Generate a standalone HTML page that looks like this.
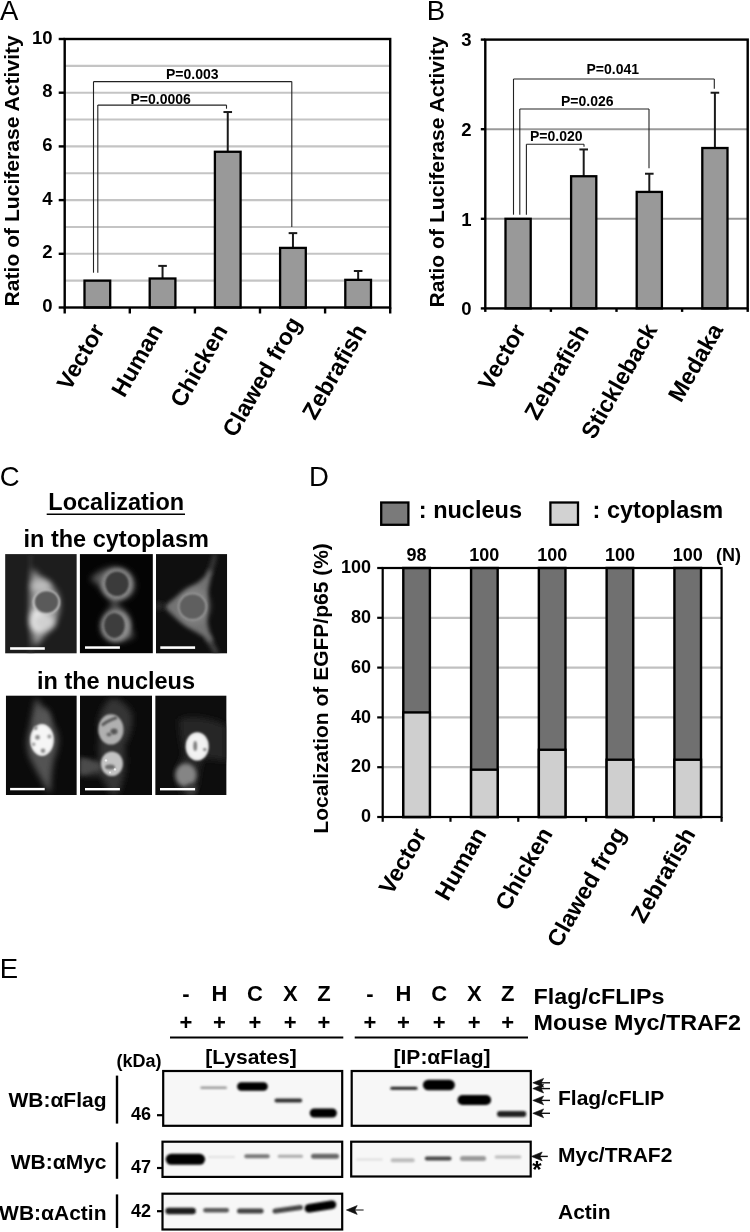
<!DOCTYPE html>
<html><head><meta charset="utf-8"><style>
html,body{margin:0;padding:0;background:#fff;width:750px;height:1232px;overflow:hidden}
svg text{font-family:"Liberation Sans",sans-serif}
</style></head><body>
<svg width="750" height="1232" viewBox="0 0 750 1232" style="display:block;filter:grayscale(1)">
<rect width="750" height="1232" fill="#fff"/>
<text x="0" y="19.7" font-size="27.5" font-weight="normal" text-anchor="start" fill="#000" >A</text>
<text x="426.8" y="19.8" font-size="27.5" font-weight="normal" text-anchor="start" fill="#000" >B</text>
<text x="-0.2" y="486.2" font-size="27.5" font-weight="normal" text-anchor="start" fill="#000" >C</text>
<text x="309.1" y="485.8" font-size="27.5" font-weight="normal" text-anchor="start" fill="#000" >D</text>
<text x="-0.3" y="977.6" font-size="27.5" font-weight="normal" text-anchor="start" fill="#000" >E</text>
<line x1="64.7" y1="280.65" x2="390.2" y2="280.65" stroke="#c4c4c4" stroke-width="2.1"/>
<line x1="64.7" y1="253.8" x2="390.2" y2="253.8" stroke="#c4c4c4" stroke-width="2.1"/>
<line x1="64.7" y1="226.95" x2="390.2" y2="226.95" stroke="#c4c4c4" stroke-width="2.1"/>
<line x1="64.7" y1="200.1" x2="390.2" y2="200.1" stroke="#c4c4c4" stroke-width="2.1"/>
<line x1="64.7" y1="173.25" x2="390.2" y2="173.25" stroke="#c4c4c4" stroke-width="2.1"/>
<line x1="64.7" y1="146.39999999999998" x2="390.2" y2="146.39999999999998" stroke="#c4c4c4" stroke-width="2.1"/>
<line x1="64.7" y1="119.54999999999998" x2="390.2" y2="119.54999999999998" stroke="#c4c4c4" stroke-width="2.1"/>
<line x1="64.7" y1="92.69999999999999" x2="390.2" y2="92.69999999999999" stroke="#c4c4c4" stroke-width="2.1"/>
<line x1="64.7" y1="65.85" x2="390.2" y2="65.85" stroke="#c4c4c4" stroke-width="2.1"/>
<rect x="84.5" y="280.65" width="25.7" height="26.850000000000023" fill="#999999" stroke="#000" stroke-width="2.3" />
<line x1="162.55" y1="265.8825" x2="162.55" y2="278.502" stroke="#1a1a1a" stroke-width="2"/>
<line x1="158.25" y1="265.8825" x2="166.85000000000002" y2="265.8825" stroke="#1a1a1a" stroke-width="2"/>
<rect x="149.70000000000002" y="278.502" width="25.7" height="28.99799999999999" fill="#999999" stroke="#000" stroke-width="2.3" />
<line x1="227.75" y1="112.03199999999998" x2="227.75" y2="151.77" stroke="#1a1a1a" stroke-width="2"/>
<line x1="223.45" y1="112.03199999999998" x2="232.05" y2="112.03199999999998" stroke="#1a1a1a" stroke-width="2"/>
<rect x="214.9" y="151.77" width="25.7" height="155.73" fill="#999999" stroke="#000" stroke-width="2.3" />
<line x1="292.95000000000005" y1="233.1255" x2="292.95000000000005" y2="247.893" stroke="#1a1a1a" stroke-width="2"/>
<line x1="288.65000000000003" y1="233.1255" x2="297.25000000000006" y2="233.1255" stroke="#1a1a1a" stroke-width="2"/>
<rect x="280.1" y="247.893" width="25.7" height="59.607" fill="#999999" stroke="#000" stroke-width="2.3" />
<line x1="358.15" y1="270.984" x2="358.15" y2="279.8445" stroke="#1a1a1a" stroke-width="2"/>
<line x1="353.84999999999997" y1="270.984" x2="362.45" y2="270.984" stroke="#1a1a1a" stroke-width="2"/>
<rect x="345.29999999999995" y="279.8445" width="25.7" height="27.655500000000018" fill="#999999" stroke="#000" stroke-width="2.3" />
<rect x="64.7" y="39" width="325.5" height="268.5" fill="none" stroke="#000" stroke-width="2.4" />
<line x1="58.7" y1="307.5" x2="64.7" y2="307.5" stroke="#000" stroke-width="2.4"/>
<text x="52.6" y="312.0" font-size="18.5" font-weight="bold" text-anchor="end" fill="#000" >0</text>
<line x1="58.7" y1="253.8" x2="64.7" y2="253.8" stroke="#000" stroke-width="2.4"/>
<text x="52.6" y="258.3" font-size="18.5" font-weight="bold" text-anchor="end" fill="#000" >2</text>
<line x1="58.7" y1="200.1" x2="64.7" y2="200.1" stroke="#000" stroke-width="2.4"/>
<text x="52.6" y="204.6" font-size="18.5" font-weight="bold" text-anchor="end" fill="#000" >4</text>
<line x1="58.7" y1="146.39999999999998" x2="64.7" y2="146.39999999999998" stroke="#000" stroke-width="2.4"/>
<text x="52.6" y="150.89999999999998" font-size="18.5" font-weight="bold" text-anchor="end" fill="#000" >6</text>
<line x1="58.7" y1="92.69999999999999" x2="64.7" y2="92.69999999999999" stroke="#000" stroke-width="2.4"/>
<text x="52.6" y="97.19999999999999" font-size="18.5" font-weight="bold" text-anchor="end" fill="#000" >8</text>
<line x1="58.7" y1="39.0" x2="64.7" y2="39.0" stroke="#000" stroke-width="2.4"/>
<text x="52.6" y="43.5" font-size="18.5" font-weight="bold" text-anchor="end" fill="#000" >10</text>
<line x1="64.7" y1="307.5" x2="64.7" y2="313.5" stroke="#000" stroke-width="2.4"/>
<line x1="129.8" y1="307.5" x2="129.8" y2="313.5" stroke="#000" stroke-width="2.4"/>
<line x1="194.89999999999998" y1="307.5" x2="194.89999999999998" y2="313.5" stroke="#000" stroke-width="2.4"/>
<line x1="260.0" y1="307.5" x2="260.0" y2="313.5" stroke="#000" stroke-width="2.4"/>
<line x1="325.09999999999997" y1="307.5" x2="325.09999999999997" y2="313.5" stroke="#000" stroke-width="2.4"/>
<line x1="390.2" y1="307.5" x2="390.2" y2="313.5" stroke="#000" stroke-width="2.4"/>
<text transform="translate(105.3,330) rotate(-60)" font-size="23.3" font-weight="bold" text-anchor="end">Vector</text>
<text transform="translate(163.7,330) rotate(-60)" font-size="23.3" font-weight="bold" text-anchor="end">Human</text>
<text transform="translate(228.3,330.2) rotate(-60)" font-size="23.3" font-weight="bold" text-anchor="end">Chicken</text>
<text transform="translate(302,323) rotate(-60)" font-size="23.3" font-weight="bold" text-anchor="end">Clawed frog</text>
<text transform="translate(367.4,330.2) rotate(-60)" font-size="23.3" font-weight="bold" text-anchor="end">Zebrafish</text>
<text transform="translate(18.8,170.8) rotate(-90)" font-size="21.1" font-weight="bold" text-anchor="middle">Ratio of Luciferase Activity</text>
<line x1="93.5" y1="272.7" x2="93.5" y2="81.6" stroke="#222" stroke-width="1.1"/>
<line x1="93.5" y1="81.6" x2="291.8" y2="81.6" stroke="#222" stroke-width="1.1"/>
<line x1="291.8" y1="81.6" x2="291.8" y2="226.9" stroke="#222" stroke-width="1.1"/>
<line x1="97.8" y1="272.7" x2="97.8" y2="105.1" stroke="#222" stroke-width="1.1"/>
<line x1="97.8" y1="105.1" x2="226.5" y2="105.1" stroke="#222" stroke-width="1.1"/>
<line x1="226.5" y1="105.1" x2="226.5" y2="108.7" stroke="#222" stroke-width="1.1"/>
<text x="166" y="79" font-size="14" font-weight="bold" text-anchor="start" fill="#000" >P=0.003</text>
<text x="130.5" y="103.5" font-size="14" font-weight="bold" text-anchor="start" fill="#000" >P=0.0006</text>
<line x1="485.3" y1="218.8" x2="747.7" y2="218.8" stroke="#9a9a9a" stroke-width="2.0"/>
<line x1="485.3" y1="129.20000000000002" x2="747.7" y2="129.20000000000002" stroke="#9a9a9a" stroke-width="2.0"/>
<rect x="505.5" y="218.8" width="25.2" height="89.59999999999997" fill="#999999" stroke="#000" stroke-width="2.3" />
<line x1="583.7" y1="149.4496" x2="583.7" y2="176.24" stroke="#1a1a1a" stroke-width="2"/>
<line x1="579.4000000000001" y1="149.4496" x2="588.0" y2="149.4496" stroke="#1a1a1a" stroke-width="2"/>
<rect x="571.1" y="176.24" width="25.2" height="132.15999999999997" fill="#999999" stroke="#000" stroke-width="2.3" />
<line x1="649.3000000000001" y1="173.73120000000003" x2="649.3000000000001" y2="191.92000000000002" stroke="#1a1a1a" stroke-width="2"/>
<line x1="645.0000000000001" y1="173.73120000000003" x2="653.6" y2="173.73120000000003" stroke="#1a1a1a" stroke-width="2"/>
<rect x="636.7" y="191.92000000000002" width="25.2" height="116.47999999999996" fill="#999999" stroke="#000" stroke-width="2.3" />
<line x1="714.9000000000001" y1="92.73280000000003" x2="714.9000000000001" y2="148.01600000000002" stroke="#1a1a1a" stroke-width="2"/>
<line x1="710.6000000000001" y1="92.73280000000003" x2="719.2" y2="92.73280000000003" stroke="#1a1a1a" stroke-width="2"/>
<rect x="702.3000000000001" y="148.01600000000002" width="25.2" height="160.38399999999996" fill="#999999" stroke="#000" stroke-width="2.3" />
<rect x="485.3" y="39.6" width="262.40000000000003" height="268.79999999999995" fill="none" stroke="#000" stroke-width="2.4" />
<line x1="480.8" y1="308.4" x2="485.3" y2="308.4" stroke="#000" stroke-width="2.4"/>
<text x="471.6" y="315.09999999999997" font-size="18.5" font-weight="bold" text-anchor="end" fill="#000" >0</text>
<line x1="480.8" y1="218.8" x2="485.3" y2="218.8" stroke="#000" stroke-width="2.4"/>
<text x="471.6" y="225.5" font-size="18.5" font-weight="bold" text-anchor="end" fill="#000" >1</text>
<line x1="480.8" y1="129.20000000000002" x2="485.3" y2="129.20000000000002" stroke="#000" stroke-width="2.4"/>
<text x="471.6" y="135.9" font-size="18.5" font-weight="bold" text-anchor="end" fill="#000" >2</text>
<line x1="480.8" y1="39.60000000000002" x2="485.3" y2="39.60000000000002" stroke="#000" stroke-width="2.4"/>
<text x="471.6" y="46.300000000000026" font-size="18.5" font-weight="bold" text-anchor="end" fill="#000" >3</text>
<line x1="485.3" y1="308.4" x2="485.3" y2="311.9" stroke="#000" stroke-width="2.4"/>
<line x1="550.9" y1="308.4" x2="550.9" y2="311.9" stroke="#000" stroke-width="2.4"/>
<line x1="616.5" y1="308.4" x2="616.5" y2="311.9" stroke="#000" stroke-width="2.4"/>
<line x1="682.1" y1="308.4" x2="682.1" y2="311.9" stroke="#000" stroke-width="2.4"/>
<line x1="747.7" y1="308.4" x2="747.7" y2="311.9" stroke="#000" stroke-width="2.4"/>
<text transform="translate(526.5,330.2) rotate(-60)" font-size="23.3" font-weight="bold" text-anchor="end">Vector</text>
<text transform="translate(589.6,330.4) rotate(-60)" font-size="23.3" font-weight="bold" text-anchor="end">Zebrafish</text>
<text transform="translate(658,329.5) rotate(-60)" font-size="23.3" font-weight="bold" text-anchor="end">Stickleback</text>
<text transform="translate(723.8,329.5) rotate(-60)" font-size="23.3" font-weight="bold" text-anchor="end">Medaka</text>
<text transform="translate(443.8,171.9) rotate(-90)" font-size="21.1" font-weight="bold" text-anchor="middle">Ratio of Luciferase Activity</text>
<line x1="513.5" y1="214.7" x2="513.5" y2="79" stroke="#222" stroke-width="1.1"/>
<line x1="513.5" y1="79" x2="714.3" y2="79" stroke="#222" stroke-width="1.1"/>
<line x1="714.3" y1="79" x2="714.3" y2="88.7" stroke="#222" stroke-width="1.1"/>
<line x1="519.8" y1="214.7" x2="519.8" y2="109" stroke="#222" stroke-width="1.1"/>
<line x1="519.8" y1="109" x2="649" y2="109" stroke="#222" stroke-width="1.1"/>
<line x1="649" y1="109" x2="649" y2="168.3" stroke="#222" stroke-width="1.1"/>
<line x1="526.4" y1="214.7" x2="526.4" y2="144.3" stroke="#222" stroke-width="1.1"/>
<line x1="526.4" y1="144.3" x2="584" y2="144.3" stroke="#222" stroke-width="1.1"/>
<line x1="584" y1="144.3" x2="584" y2="146.7" stroke="#222" stroke-width="1.1"/>
<text x="586.5" y="74.3" font-size="14" font-weight="bold" text-anchor="start" fill="#000" >P=0.041</text>
<text x="561" y="106" font-size="14" font-weight="bold" text-anchor="start" fill="#000" >P=0.026</text>
<text x="530" y="141" font-size="14" font-weight="bold" text-anchor="start" fill="#000" >P=0.020</text>
<text x="116.2" y="509.7" font-size="23.5" font-weight="bold" text-anchor="middle" fill="#000" >Localization</text>
<line x1="46.7" y1="514.2" x2="185" y2="514.2" stroke="#000" stroke-width="1.6"/>
<text x="116.2" y="546.6" font-size="23.5" font-weight="bold" text-anchor="middle" fill="#000" >in the cytoplasm</text>
<text x="116.0" y="688.5" font-size="23.5" font-weight="bold" text-anchor="middle" fill="#000" >in the nucleus</text>
<line x1="382.7" y1="767.2" x2="721.6" y2="767.2" stroke="#c0c0c0" stroke-width="2.2"/>
<line x1="382.7" y1="717.4" x2="721.6" y2="717.4" stroke="#c0c0c0" stroke-width="2.2"/>
<line x1="382.7" y1="667.6" x2="721.6" y2="667.6" stroke="#c0c0c0" stroke-width="2.2"/>
<line x1="382.7" y1="617.8" x2="721.6" y2="617.8" stroke="#c0c0c0" stroke-width="2.2"/>
<rect x="403.28999999999996" y="568" width="26.6" height="249.0" fill="#707070" stroke="#000" stroke-width="2.4" />
<rect x="403.28999999999996" y="712.42" width="26.6" height="104.58000000000001" fill="#cfcfcf" stroke="#000" stroke-width="2.4" />
<rect x="471.07" y="568" width="26.6" height="249.0" fill="#707070" stroke="#000" stroke-width="2.4" />
<rect x="471.07" y="769.69" width="26.6" height="47.31" fill="#cfcfcf" stroke="#000" stroke-width="2.4" />
<rect x="538.85" y="568" width="26.6" height="249.0" fill="#707070" stroke="#000" stroke-width="2.4" />
<rect x="538.85" y="749.77" width="26.6" height="67.23" fill="#cfcfcf" stroke="#000" stroke-width="2.4" />
<rect x="606.6300000000001" y="568" width="26.6" height="249.0" fill="#707070" stroke="#000" stroke-width="2.4" />
<rect x="606.6300000000001" y="759.73" width="26.6" height="57.27" fill="#cfcfcf" stroke="#000" stroke-width="2.4" />
<rect x="674.4100000000001" y="568" width="26.6" height="249.0" fill="#707070" stroke="#000" stroke-width="2.4" />
<rect x="674.4100000000001" y="759.73" width="26.6" height="57.27" fill="#cfcfcf" stroke="#000" stroke-width="2.4" />
<rect x="382.7" y="568" width="338.90000000000003" height="249.0" fill="none" stroke="#000" stroke-width="2.2" />
<line x1="377.2" y1="817.0" x2="382.7" y2="817.0" stroke="#000" stroke-width="2.2"/>
<text x="371" y="822.2" font-size="18" font-weight="bold" text-anchor="end" fill="#000" >0</text>
<line x1="377.2" y1="767.2" x2="382.7" y2="767.2" stroke="#000" stroke-width="2.2"/>
<text x="371" y="772.4000000000001" font-size="18" font-weight="bold" text-anchor="end" fill="#000" >20</text>
<line x1="377.2" y1="717.4" x2="382.7" y2="717.4" stroke="#000" stroke-width="2.2"/>
<text x="371" y="722.6" font-size="18" font-weight="bold" text-anchor="end" fill="#000" >40</text>
<line x1="377.2" y1="667.6" x2="382.7" y2="667.6" stroke="#000" stroke-width="2.2"/>
<text x="371" y="672.8000000000001" font-size="18" font-weight="bold" text-anchor="end" fill="#000" >60</text>
<line x1="377.2" y1="617.8" x2="382.7" y2="617.8" stroke="#000" stroke-width="2.2"/>
<text x="371" y="623.0" font-size="18" font-weight="bold" text-anchor="end" fill="#000" >80</text>
<line x1="377.2" y1="568.0" x2="382.7" y2="568.0" stroke="#000" stroke-width="2.2"/>
<text x="371" y="573.2" font-size="18" font-weight="bold" text-anchor="end" fill="#000" >100</text>
<line x1="382.7" y1="817.0" x2="382.7" y2="821.8" stroke="#000" stroke-width="2.2"/>
<line x1="450.48" y1="817.0" x2="450.48" y2="821.8" stroke="#000" stroke-width="2.2"/>
<line x1="518.26" y1="817.0" x2="518.26" y2="821.8" stroke="#000" stroke-width="2.2"/>
<line x1="586.04" y1="817.0" x2="586.04" y2="821.8" stroke="#000" stroke-width="2.2"/>
<line x1="653.8199999999999" y1="817.0" x2="653.8199999999999" y2="821.8" stroke="#000" stroke-width="2.2"/>
<line x1="721.5999999999999" y1="817.0" x2="721.5999999999999" y2="821.8" stroke="#000" stroke-width="2.2"/>
<text transform="translate(427.3,834.2) rotate(-60)" font-size="23.3" font-weight="bold" text-anchor="end">Vector</text>
<text transform="translate(487.2,833.5) rotate(-60)" font-size="23.3" font-weight="bold" text-anchor="end">Human</text>
<text transform="translate(553.3,833.5) rotate(-60)" font-size="23.3" font-weight="bold" text-anchor="end">Chicken</text>
<text transform="translate(626.5,833.2) rotate(-60)" font-size="23.3" font-weight="bold" text-anchor="end">Clawed frog</text>
<text transform="translate(696.2,833.8) rotate(-60)" font-size="23.3" font-weight="bold" text-anchor="end">Zebrafish</text>
<text transform="translate(328,688.4) rotate(-90)" font-size="21" font-weight="bold" text-anchor="middle">Localization of EGFP/p65 (%)</text>
<text x="416.59" y="560.5" font-size="18" font-weight="bold" text-anchor="middle" fill="#000" >98</text>
<text x="484.37" y="560.5" font-size="18" font-weight="bold" text-anchor="middle" fill="#000" >100</text>
<text x="552.15" y="560.5" font-size="18" font-weight="bold" text-anchor="middle" fill="#000" >100</text>
<text x="619.9300000000001" y="560.5" font-size="18" font-weight="bold" text-anchor="middle" fill="#000" >100</text>
<text x="687.71" y="560.5" font-size="18" font-weight="bold" text-anchor="middle" fill="#000" >100</text>
<text x="716" y="560.5" font-size="18" font-weight="bold" text-anchor="start" fill="#000" >(N)</text>
<rect x="381.2" y="502.5" width="27.2" height="22.3" fill="#7a7a7a" stroke="#000" stroke-width="2.3" />
<text x="418.8" y="518.2" font-size="23.5" font-weight="bold" text-anchor="start" fill="#000" >: nucleus</text>
<rect x="550.4" y="502.5" width="27.6" height="22.3" fill="#d2d2d2" stroke="#000" stroke-width="2.3" />
<text x="592.6" y="518.2" font-size="23.5" font-weight="bold" text-anchor="start" fill="#000" >: cytoplasm</text>
<text x="186" y="1001" font-size="22" font-weight="bold" text-anchor="middle" fill="#000" >-</text>
<text x="186" y="1030" font-size="22" font-weight="bold" text-anchor="middle" fill="#000" >+</text>
<text x="219.5" y="1001" font-size="22" font-weight="bold" text-anchor="middle" fill="#000" >H</text>
<text x="219.5" y="1030" font-size="22" font-weight="bold" text-anchor="middle" fill="#000" >+</text>
<text x="255" y="1001" font-size="22" font-weight="bold" text-anchor="middle" fill="#000" >C</text>
<text x="255" y="1030" font-size="22" font-weight="bold" text-anchor="middle" fill="#000" >+</text>
<text x="290.3" y="1001" font-size="22" font-weight="bold" text-anchor="middle" fill="#000" >X</text>
<text x="290.3" y="1030" font-size="22" font-weight="bold" text-anchor="middle" fill="#000" >+</text>
<text x="324" y="1001" font-size="22" font-weight="bold" text-anchor="middle" fill="#000" >Z</text>
<text x="324" y="1030" font-size="22" font-weight="bold" text-anchor="middle" fill="#000" >+</text>
<text x="370" y="1001" font-size="22" font-weight="bold" text-anchor="middle" fill="#000" >-</text>
<text x="370" y="1030" font-size="22" font-weight="bold" text-anchor="middle" fill="#000" >+</text>
<text x="403.5" y="1001" font-size="22" font-weight="bold" text-anchor="middle" fill="#000" >H</text>
<text x="403.5" y="1030" font-size="22" font-weight="bold" text-anchor="middle" fill="#000" >+</text>
<text x="439.2" y="1001" font-size="22" font-weight="bold" text-anchor="middle" fill="#000" >C</text>
<text x="439.2" y="1030" font-size="22" font-weight="bold" text-anchor="middle" fill="#000" >+</text>
<text x="474.3" y="1001" font-size="22" font-weight="bold" text-anchor="middle" fill="#000" >X</text>
<text x="474.3" y="1030" font-size="22" font-weight="bold" text-anchor="middle" fill="#000" >+</text>
<text x="507.7" y="1001" font-size="22" font-weight="bold" text-anchor="middle" fill="#000" >Z</text>
<text x="507.7" y="1030" font-size="22" font-weight="bold" text-anchor="middle" fill="#000" >+</text>
<line x1="170" y1="1037.5" x2="343.3" y2="1037.5" stroke="#000" stroke-width="2"/>
<line x1="354.7" y1="1037.5" x2="528" y2="1037.5" stroke="#000" stroke-width="2"/>
<text transform="translate(533.6,1004) scale(1.033,1)" font-size="22.6" font-weight="bold" text-anchor="start" fill="#000" >Flag/cFLIPs</text>
<text transform="translate(533.6,1029.7) scale(1.033,1)" font-size="22.6" font-weight="bold" text-anchor="start" fill="#000" >Mouse Myc/TRAF2</text>
<text x="251" y="1064" font-size="21" font-weight="bold" text-anchor="middle" fill="#000" >[Lysates]</text>
<text x="442" y="1064" font-size="21" font-weight="bold" text-anchor="middle" fill="#000" >[IP:&#945;Flag]</text>
<text x="139" y="1067" font-size="18" font-weight="bold" text-anchor="middle" fill="#000" >(kDa)</text>
<text x="106.5" y="1106.8" font-size="21" font-weight="bold" text-anchor="end" fill="#000" >WB:&#945;Flag</text>
<text x="106.5" y="1168.7" font-size="21" font-weight="bold" text-anchor="end" fill="#000" >WB:&#945;Myc</text>
<text x="106.5" y="1219.6" font-size="21" font-weight="bold" text-anchor="end" fill="#000" >WB:&#945;Actin</text>
<line x1="117" y1="1075.6" x2="117" y2="1123.6" stroke="#000" stroke-width="2.4"/>
<line x1="117" y1="1142.3" x2="117" y2="1178.8" stroke="#000" stroke-width="2.4"/>
<line x1="117" y1="1194.4" x2="117" y2="1228" stroke="#000" stroke-width="2.4"/>
<text x="151" y="1120" font-size="18" font-weight="bold" text-anchor="end" fill="#000" >46</text>
<text x="151" y="1172.8" font-size="18" font-weight="bold" text-anchor="end" fill="#000" >47</text>
<text x="151" y="1216.5" font-size="18" font-weight="bold" text-anchor="end" fill="#000" >42</text>
<line x1="157" y1="1115.2" x2="163" y2="1115.2" stroke="#000" stroke-width="2.2"/>
<line x1="157" y1="1168" x2="163" y2="1168" stroke="#000" stroke-width="2.2"/>
<line x1="157" y1="1211.2" x2="163" y2="1211.2" stroke="#000" stroke-width="2.2"/>
<text x="558" y="1105.3" font-size="21" font-weight="bold" text-anchor="start" fill="#000" >Flag/cFLIP</text>
<text x="558" y="1161.9" font-size="21" font-weight="bold" text-anchor="start" fill="#000" >Myc/TRAF2</text>
<text x="558" y="1218.5" font-size="21" font-weight="bold" text-anchor="start" fill="#000" >Actin</text>
<defs><filter id="b1" x="-50%" y="-100%" width="200%" height="300%"><feGaussianBlur stdDeviation="1.2"/></filter><filter id="b2" x="-50%" y="-100%" width="200%" height="300%"><feGaussianBlur stdDeviation="0.8"/></filter><filter id="cb3" x="-50%" y="-50%" width="200%" height="200%"><feGaussianBlur stdDeviation="3"/></filter><filter id="cb2" x="-50%" y="-50%" width="200%" height="200%"><feGaussianBlur stdDeviation="2"/></filter><filter id="cb1" x="-50%" y="-50%" width="200%" height="200%"><feGaussianBlur stdDeviation="1.2"/></filter></defs>
<rect x="163.2" y="1071" width="179.0" height="54.799999999999955" fill="#f7f7f7" stroke="none" stroke-width="0" />
<rect x="351.7" y="1071" width="179.09999999999997" height="54.799999999999955" fill="#f7f7f7" stroke="none" stroke-width="0" />
<rect x="162.5" y="1141.7" width="179.7" height="35.200000000000045" fill="#f7f7f7" stroke="none" stroke-width="0" />
<rect x="351.2" y="1141.7" width="179.50000000000006" height="34.799999999999955" fill="#f7f7f7" stroke="none" stroke-width="0" />
<rect x="162.5" y="1193.7" width="179.7" height="35.799999999999955" fill="#f7f7f7" stroke="none" stroke-width="0" />
<rect x="200.3" y="1086.45" width="26.69999999999999" height="2.5" rx="1.25" fill="#9a9a9a" filter="url(#b1)"/>
<rect x="237.1" y="1082.35" width="30.700000000000017" height="8.5" rx="4.25" fill="#000" filter="url(#b1)"/>
<rect x="274.5" y="1098.5" width="27.69999999999999" height="4" rx="2.0" fill="#333" filter="url(#b1)"/>
<rect x="309.7" y="1108.5" width="27.19999999999999" height="9" rx="4.5" fill="#000" filter="url(#b1)"/>
<rect x="390.3" y="1086.7" width="27.19999999999999" height="3" rx="1.5" fill="#222" filter="url(#b1)"/>
<rect x="422.9" y="1079.7" width="32.0" height="10.6" rx="5.3" fill="#000" filter="url(#b1)"/>
<rect x="457.5" y="1095.0" width="33.60000000000002" height="10" rx="5.0" fill="#000" filter="url(#b1)"/>
<rect x="497" y="1111.0" width="29.299999999999955" height="6" rx="3.0" fill="#222" filter="url(#b1)"/>
<rect x="165.7" y="1153.8" width="39.400000000000006" height="11" rx="5.5" fill="#000" filter="url(#b1)"/>
<rect x="208" y="1156.0" width="27" height="2" rx="1.0" fill="#e0e0e0" filter="url(#b1)"/>
<rect x="244.3" y="1154.3" width="25.399999999999977" height="4" rx="2.0" fill="#777" filter="url(#b1)"/>
<rect x="277.7" y="1154.8" width="25.30000000000001" height="3" rx="1.5" fill="#aaa" filter="url(#b1)"/>
<rect x="311" y="1153.8" width="28" height="5" rx="2.5" fill="#666" filter="url(#b1)"/>
<rect x="356" y="1158.5" width="26.69999999999999" height="2" rx="1.0" fill="#ddd" filter="url(#b1)"/>
<rect x="390.7" y="1158.3" width="24.0" height="4" rx="2.0" fill="#bbb" filter="url(#b1)"/>
<rect x="424.8" y="1156.5" width="26.69999999999999" height="4" rx="2.0" fill="#444" filter="url(#b1)"/>
<rect x="460" y="1156.0" width="26.100000000000023" height="5" rx="2.5" fill="#999" filter="url(#b1)"/>
<rect x="494.7" y="1155.4" width="26.599999999999966" height="3" rx="1.5" fill="#bbb" filter="url(#b1)"/>
<rect x="165.4" y="1207.75" width="30.400000000000006" height="6.5" rx="3.25" fill="#1a1a1a" filter="url(#b1)"/>
<rect x="203.2" y="1208.05" width="25.80000000000001" height="4.5" rx="2.25" fill="#5a5a5a" filter="url(#b1)"/>
<rect x="237" y="1208.5" width="26.600000000000023" height="5" rx="2.5" fill="#444" filter="url(#b1)"/>
<rect x="272.5" y="1206.8" width="30.5" height="5" rx="2.5" fill="#444" filter="url(#b1)" transform="rotate(-8,287.75,1209.3)"/>
<rect x="304.5" y="1202.35" width="31.899999999999977" height="8.5" rx="4.25" fill="#050505" filter="url(#b1)" transform="rotate(-9,320.45,1206.6)"/>
<rect x="163.2" y="1071" width="179.0" height="54.799999999999955" fill="none" stroke="#000" stroke-width="2.2" />
<rect x="351.7" y="1071" width="179.09999999999997" height="54.799999999999955" fill="none" stroke="#000" stroke-width="2.2" />
<rect x="162.5" y="1141.7" width="179.7" height="35.200000000000045" fill="none" stroke="#000" stroke-width="2.2" />
<rect x="351.2" y="1141.7" width="179.50000000000006" height="34.799999999999955" fill="none" stroke="#000" stroke-width="2.2" />
<rect x="162.5" y="1193.7" width="179.7" height="35.799999999999955" fill="none" stroke="#000" stroke-width="2.2" />
<line x1="538.8" y1="1082.8" x2="550" y2="1082.8" stroke="#111" stroke-width="1.4"/>
<path d="M532.8 1082.8 L543.5999999999999 1078.3999999999999 L541.1999999999999 1082.8 L543.5999999999999 1087.2 Z" fill="#111" stroke="#111" stroke-width="0.6" stroke-linejoin="round"/>
<line x1="538.8" y1="1088.6" x2="550" y2="1088.6" stroke="#111" stroke-width="1.4"/>
<path d="M532.8 1088.6 L543.5999999999999 1084.1999999999998 L541.1999999999999 1088.6 L543.5999999999999 1093.0 Z" fill="#111" stroke="#111" stroke-width="0.6" stroke-linejoin="round"/>
<line x1="538.8" y1="1100.4" x2="550" y2="1100.4" stroke="#111" stroke-width="1.4"/>
<path d="M532.8 1100.4 L543.5999999999999 1096.0 L541.1999999999999 1100.4 L543.5999999999999 1104.8000000000002 Z" fill="#111" stroke="#111" stroke-width="0.6" stroke-linejoin="round"/>
<line x1="538.8" y1="1113.3" x2="550" y2="1113.3" stroke="#111" stroke-width="1.4"/>
<path d="M532.8 1113.3 L543.5999999999999 1108.8999999999999 L541.1999999999999 1113.3 L543.5999999999999 1117.7 Z" fill="#111" stroke="#111" stroke-width="0.6" stroke-linejoin="round"/>
<line x1="537.4" y1="1156.4" x2="547.8" y2="1156.4" stroke="#111" stroke-width="1.4"/>
<path d="M531.4 1156.4 L542.1999999999999 1152.0 L539.8 1156.4 L542.1999999999999 1160.8000000000002 Z" fill="#111" stroke="#111" stroke-width="0.6" stroke-linejoin="round"/>
<line x1="352.4" y1="1210" x2="363.6" y2="1210" stroke="#444" stroke-width="1.3"/>
<path d="M346.4 1210 L357.2 1205.6 L354.79999999999995 1210 L357.2 1214.4 Z" fill="#111" stroke="#111" stroke-width="0.6" stroke-linejoin="round"/>
<text x="536.8" y="1177.5" font-size="24" font-weight="bold" text-anchor="middle" fill="#000" >*</text>
<svg x="5.1" y="554.1" width="71.7" height="99.5" viewBox="0 0 71.7 99.5"><rect width="100%" height="100%" fill="#1d1d1d"/><rect x="23.5" y="0" width="4" height="99.5" fill="#2e2e2e" filter="url(#cb2)"/><path d="M27.5 14 C34 24 46 28 52 38 C56 46 55 58 52 64 C48 74 40 80 33 90 L29 92 C26 80 24.5 60 25 45 C25 32 26 22 27.5 14Z" fill="#9a9a9a" filter="url(#cb3)"/><ellipse cx="33" cy="66" rx="8" ry="12" fill="#ececec" filter="url(#cb3)"/><ellipse cx="39" cy="68" rx="11" ry="8" fill="#d0d0d0" filter="url(#cb3)"/><ellipse cx="36" cy="32" rx="10" ry="6" fill="#bdbdbd" filter="url(#cb3)"/><ellipse cx="41.3" cy="48.2" rx="13.6" ry="12.4" fill="#d0d0d0" filter="url(#cb1)"/><ellipse cx="41.5" cy="47.8" rx="12" ry="11" fill="#5a5a5a" filter="url(#cb1)"/><rect x="5" y="93.1" width="34.7" height="2.6" fill="#fff"/></svg>
<svg x="79.7" y="554.1" width="73.2" height="99.29999999999995" viewBox="0 0 73.2 99.29999999999995"><rect width="100%" height="100%" fill="#040404"/><path d="M10.6 24.6 C18 18 26 13 36 13 C48 14 55 22 55 32 C55 40 48 45 40 46 L36 50 C45 55 52 62 51 74 C52 78 55 82 55 82 C48 86 42 88 36 88 C26 88 21 80 21 72 C21 64 27 57 33 51 L31 46 C25 42 22 36 18 30 C15 28 12 27 10.6 24.6Z" fill="#5a5a5a" filter="url(#cb3)"/><ellipse cx="37.3" cy="30" rx="15.5" ry="15.5" fill="#8e8e8e" filter="url(#cb2)"/><ellipse cx="37.3" cy="29.7" rx="11.8" ry="12.3" fill="#3a3a3a" filter="url(#cb1)"/><ellipse cx="36.3" cy="71.8" rx="14.5" ry="15.5" fill="#8e8e8e" filter="url(#cb2)"/><ellipse cx="34.7" cy="71.3" rx="10.3" ry="12.5" fill="#3c3c3c" filter="url(#cb1)"/><rect x="5.3" y="92.2" width="34.9" height="2.5" fill="#fff"/></svg>
<svg x="156" y="554.1" width="71.19999999999999" height="99.5" viewBox="0 0 71.19999999999999 99.5"><rect width="100%" height="100%" fill="#0f0f0f"/><path d="M57 0 L61 0 C60 8 58 14 56 20 L50 20 C53 14 55 8 57 0Z" fill="#3a3a3a" filter="url(#cb2)"/><path d="M53 80 C56 86 60 92 63 99.5 L58 99.5 C55 94 52 90 48 84Z" fill="#444" filter="url(#cb2)"/><path d="M8 52.6 C18 44 28 37 38 31 C45 27 50 22 53 16 L56 18 C54 26 52 36 51 46 C50 58 51 68 53 76 C54 80 56 84 57 87 L54 88 C50 84 44 80 38 77 C28 72 18 63 8 52.6Z" fill="#727272" filter="url(#cb2)"/><ellipse cx="38" cy="52" rx="15" ry="18" fill="#828282" filter="url(#cb3)"/><ellipse cx="36.5" cy="52.6" rx="14.4" ry="13.7" fill="#9c9c9c" filter="url(#cb1)"/><ellipse cx="36.5" cy="52.6" rx="13" ry="12.4" fill="#5e5e5e" filter="url(#cb1)"/><ellipse cx="3" cy="52" rx="6" ry="4" fill="#262626" filter="url(#cb2)"/><rect x="4.3" y="92.2" width="34.8" height="2.6" fill="#fff"/></svg>
<svg x="5.8" y="695.4" width="71.0" height="99.60000000000002" viewBox="0 0 71.0 99.60000000000002"><rect width="100%" height="100%" fill="#0b0b0b"/><path d="M30 2 C36 10 44 22 50 34 C54 44 52 54 48 64 C46 74 45 86 45 96 L42 96 C36 84 28 72 24 62 C20 52 21 42 24 32 C26 20 28 10 30 2Z" fill="#535353" filter="url(#cb3)"/><ellipse cx="38" cy="25" rx="7" ry="12" fill="#565656" filter="url(#cb3)"/><ellipse cx="36.2" cy="44.5" rx="11.8" ry="16" fill="#d8d8d8" filter="url(#cb1)"/><ellipse cx="36.2" cy="44.5" rx="10.5" ry="14.6" fill="#f6f6f6" filter="url(#cb1)"/><circle cx="29.8" cy="32.6" r="2" fill="#8a8a8a" filter="url(#cb1)"/><circle cx="31.7" cy="42" r="2.4" fill="#8a8a8a" filter="url(#cb1)"/><circle cx="43.6" cy="41" r="2" fill="#999" filter="url(#cb1)"/><circle cx="27.8" cy="48.9" r="1.8" fill="#999" filter="url(#cb1)"/><circle cx="37.2" cy="55.3" r="2.3" fill="#888" filter="url(#cb1)"/><rect x="4.3" y="92.5" width="34.6" height="2.4" fill="#fff"/></svg>
<svg x="80" y="695.4" width="72" height="99.60000000000002" viewBox="0 0 72 99.60000000000002"><rect width="100%" height="100%" fill="#0b0b0b"/><path d="M20 20 C24 8 30 2 34 2 C40 4 48 10 52 18 C54 30 48 44 44 52 C46 60 46 70 44 80 C42 88 40 94 38 99 L30 99 C28 92 24 86 20 80 L0 80 L0 64 C8 64 16 66 20 66 C18 56 18 48 20 40 C18 32 18 26 20 20Z" fill="#363636" filter="url(#cb3)"/><path d="M0 62 C8 64 14 66 20 68 L20 74 C14 76 8 78 0 80Z" fill="#4c4c4c" filter="url(#cb2)"/><ellipse cx="30.9" cy="34" rx="12.6" ry="15.2" fill="#b0b0b0" filter="url(#cb1)"/><path d="M22 30 C26 26 32 24 37 22" stroke="#555" stroke-width="3" fill="none" filter="url(#cb1)"/><ellipse cx="34" cy="36" rx="3.5" ry="3" fill="#555" filter="url(#cb1)"/><ellipse cx="29" cy="39" rx="2.5" ry="2" fill="#666" filter="url(#cb1)"/><ellipse cx="31.9" cy="68.4" rx="11" ry="12.3" fill="#c4c4c4" filter="url(#cb1)"/><ellipse cx="30" cy="71.5" rx="5" ry="2.5" fill="#6a6a6a" filter="url(#cb1)"/><circle cx="26" cy="65" r="1.2" fill="#eee"/><circle cx="35" cy="74" r="1.2" fill="#eee"/><circle cx="30" cy="77" r="1" fill="#eee"/><rect x="5" y="92.6" width="34.9" height="2.4" fill="#fff"/></svg>
<svg x="155.2" y="695.4" width="71.4" height="99.60000000000002" viewBox="0 0 71.4 99.60000000000002"><rect width="100%" height="100%" fill="#0d0d0d"/><path d="M24 24 C34 20 50 22 62 26 L71.4 30 L71.4 66 C62 64 52 62 48 64 C44 70 44 80 42 90 L38 99.5 L28 99.5 C22 90 20 80 22 72 C26 66 28 62 28 56 C26 46 24 36 24 24Z" fill="#262626" filter="url(#cb3)"/><ellipse cx="42" cy="51" rx="11.6" ry="14.2" fill="#dcdcdc" filter="url(#cb1)"/><ellipse cx="42" cy="51" rx="10" ry="12.6" fill="#f2f2f2" filter="url(#cb1)"/><ellipse cx="40" cy="50.5" rx="1.8" ry="5" fill="#7a7a7a" filter="url(#cb1)"/><circle cx="49.6" cy="54.1" r="1.6" fill="#777" filter="url(#cb1)"/><ellipse cx="30.7" cy="79.7" rx="10.6" ry="11.5" fill="#858585" filter="url(#cb2)"/><ellipse cx="36" cy="94" rx="6" ry="6" fill="#3a3a3a" filter="url(#cb2)"/><rect x="4.8" y="92.6" width="35.1" height="2.4" fill="#fff"/></svg>
</svg>
</body></html>
